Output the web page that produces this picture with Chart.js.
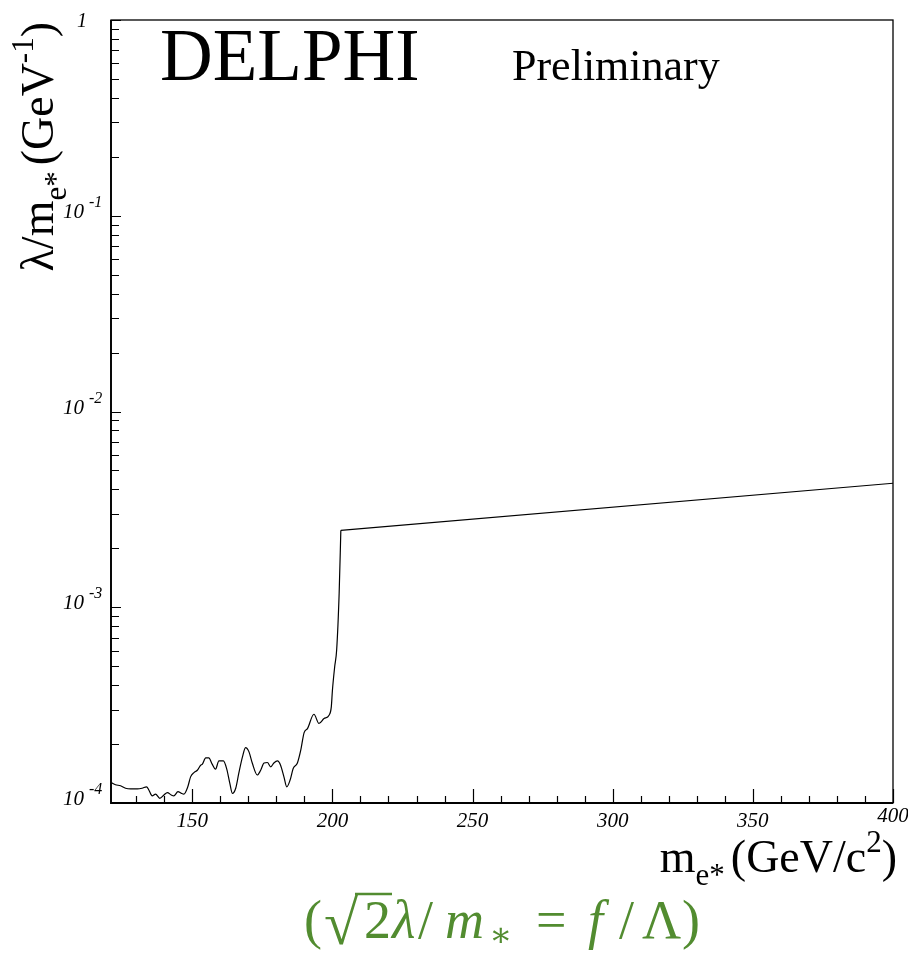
<!DOCTYPE html>
<html>
<head>
<meta charset="utf-8">
<script src="https://cdn.jsdelivr.net/npm/chart.js@4/dist/chart.umd.min.js"></script>
<style>
  html, body { margin: 0; padding: 0; background: #fff; }
  #wrap { width: 908px; height: 953px; }
</style>
</head>
<body>
<div id="wrap"><canvas id="limit-chart" width="908" height="953"></canvas></div>
<script>
// excited electron mass (GeV/c^2) and the upper limit on lambda/m (GeV^-1)
const massValues = [
    121.2, 122.6, 124.4, 126.2, 128.0, 130.4, 132.1, 133.7, 134.5, 135.7,
    136.9, 138.4, 139.9, 141.1, 142.5, 143.4, 144.9, 146.1, 147.0, 148.4,
    149.4, 150.6, 151.8, 153.0, 153.6, 154.8, 155.9, 157.1, 158.3, 159.5,
    161.1, 162.3, 163.4, 164.3, 165.5, 166.6, 167.9, 169.0, 170.2, 171.4,
    173.2, 174.4, 175.6, 176.8, 178.0, 179.1, 180.4, 181.5, 182.7, 183.7,
    184.9, 186.0, 187.5, 188.7, 189.9, 191.1, 193.4, 195.2, 197.0, 198.8,
    199.6, 200.0, 200.8, 201.5, 202.4, 203.0, 400.0
];
const limitValues = [
    1.27e-4, 1.24e-4, 1.225e-4, 1.19e-4, 1.18e-4, 1.18e-4, 1.19e-4, 1.21e-4, 1.165e-4, 1.087e-4,
    1.11e-4, 1.057e-4, 1.099e-4, 1.13e-4, 1.099e-4, 1.087e-4, 1.142e-4, 1.12e-4, 1.11e-4, 1.21e-4,
    1.36e-4, 1.43e-4, 1.47e-4, 1.56e-4, 1.58e-4, 1.70e-4, 1.70e-4, 1.58e-4, 1.49e-4, 1.64e-4,
    1.64e-4, 1.49e-4, 1.26e-4, 1.12e-4, 1.19e-4, 1.42e-4, 1.72e-4, 1.92e-4, 1.83e-4, 1.60e-4,
    1.39e-4, 1.47e-4, 1.60e-4, 1.61e-4, 1.53e-4, 1.60e-4, 1.64e-4, 1.56e-4, 1.36e-4, 1.21e-4,
    1.31e-4, 1.50e-4, 1.60e-4, 1.86e-4, 2.29e-4, 2.40e-4, 2.84e-4, 2.55e-4, 2.70e-4, 2.81e-4,
    3.10e-4, 3.77e-4, 4.96e-4, 6.03e-4, 1.18e-3, 2.47e-3, 4.30e-3
];
// the limit is smooth (scanned) up to here, a straight line beyond
const scanEnd = 65;

// axes
const xMin = 121;
const xMax = 400;
const xLabelTicks = [150, 200, 250, 300, 350, 400];
const xMinorStep = 10;
const yDecades = [-4, -3, -2, -1, 0];

const SERIF = '"Liberation Serif", "DejaVu Serif", serif';

// draws text pieces one after another, returns the end x
function drawParts(ctx, x, y, parts, measureOnly) {
    parts.forEach(p => {
        ctx.font = p.font;
        if (!measureOnly) ctx.fillText(p.t, x, y + (p.dy || 0));
        x += ctx.measureText(p.t).width + (p.gap || 0);
    });
    return x;
}

const framePlugin = {
    id: 'frame',
    afterDraw(chart) {
        const ctx = chart.ctx;
        const a = chart.chartArea;
        const xs = chart.scales.x;
        const ys = chart.scales.y;
        ctx.save();

        // frame
        ctx.strokeStyle = '#000';
        ctx.lineWidth = 1.3;
        ctx.strokeRect(a.left, a.top, a.right - a.left, a.bottom - a.top);
        ctx.lineWidth = 1.8;
        ctx.beginPath();
        ctx.moveTo(a.left, a.top);
        ctx.lineTo(a.left, a.bottom);
        ctx.lineTo(a.right, a.bottom);
        ctx.stroke();

        // x ticks, pointing inward
        ctx.lineWidth = 1.2;
        ctx.beginPath();
        for (let v = 130; v <= xMax; v += xMinorStep) {
            const px = Math.round(xs.getPixelForValue(v)) + 0.5;
            const len = v % 50 === 0 ? 14 : 7;
            ctx.moveTo(px, a.bottom);
            ctx.lineTo(px, a.bottom - len);
        }
        // y ticks
        yDecades.forEach(e => {
            const base = Math.pow(10, e);
            const py = Math.round(ys.getPixelForValue(base)) + 0.5;
            ctx.moveTo(a.left, py);
            ctx.lineTo(a.left + 10, py);
            if (e < 0) {
                for (let m = 2; m <= 9; m++) {
                    const pm = Math.round(ys.getPixelForValue(m * base)) + 0.5;
                    ctx.moveTo(a.left, pm);
                    ctx.lineTo(a.left + 8, pm);
                }
            }
        });
        ctx.stroke();

        ctx.fillStyle = '#000';
        // x tick labels
        ctx.textAlign = 'center';
        ctx.textBaseline = 'alphabetic';
        ctx.font = 'italic 21px ' + SERIF;
        xLabelTicks.forEach(v => {
            const px = xs.getPixelForValue(v);
            const by = v === xMax ? 822 : 827;
            ctx.fillText(String(v), px, by);
        });

        // y tick labels
        yDecades.forEach(e => {
            const py = ys.getPixelForValue(Math.pow(10, e));
            ctx.textAlign = 'right';
            if (e === 0) {
                ctx.font = 'italic 20px ' + SERIF;
                ctx.fillText('1', 87, py + 7);
                return;
            }
            ctx.font = 'italic 21px ' + SERIF;
            ctx.fillText('10', 84, py + 2);
            ctx.textAlign = 'left';
            ctx.font = 'italic 16px ' + SERIF;
            ctx.fillText(String(e), 89, py - 9);
        });

        // titles
        ctx.textAlign = 'left';
        ctx.font = '73px ' + SERIF;
        ctx.fillText('DELPHI', 160, 80);
        ctx.font = '44px ' + SERIF;
        ctx.fillText('Preliminary', 512, 80);

        // x axis title, right end at 897
        const big = '46px ' + SERIF;
        const small = '31px ' + SERIF;
        const xParts = [
            { t: 'm', font: big },
            { t: 'e*', font: small, dy: 13, gap: 6 },
            { t: '(GeV/c', font: big },
            { t: '2', font: small, dy: -20 },
            { t: ')', font: big }
        ];
        const xw = drawParts(ctx, 0, 0, xParts, true);
        drawParts(ctx, 897 - xw, 872, xParts);

        // y axis title, rotated, top end at y=20
        const yParts = [
            { t: 'λ/m', font: big },
            { t: 'e*', font: small, dy: 13, gap: 6 },
            { t: '(GeV', font: big },
            { t: '-1', font: small, dy: -20 },
            { t: ')', font: big }
        ];
        const yw = drawParts(ctx, 0, 0, yParts, true);
        ctx.save();
        ctx.translate(53, 22 + yw);
        ctx.rotate(-Math.PI / 2);
        drawParts(ctx, 0, 0, yParts);
        ctx.restore();

        // green coupling relation, pieces placed like the TeX layout
        const green = 'rgb(82,140,48)';
        ctx.fillStyle = green;
        ctx.strokeStyle = green;
        const g = '54px ' + SERIF;
        const gi = 'italic 54px ' + SERIF;
        const base = 938;
        const gParts = [
            { t: '(', font: g, x: 304 },
            { t: '√', font: '62px ' + SERIF, x: 324, dy: 6 },
            { t: '2', font: g, x: 364 },
            { t: 'λ', font: gi, x: 392 },
            { t: '/', font: g, x: 418 },
            { t: 'm', font: gi, x: 445 },
            { t: '∗', font: '34px ' + SERIF, x: 489, dy: 8 },
            { t: '=', font: g, x: 536 },
            { t: 'f', font: gi, x: 588 },
            { t: '/', font: g, x: 619 },
            { t: 'Λ', font: g, x: 642 },
            { t: ')', font: g, x: 682 }
        ];
        gParts.forEach(p => {
            ctx.font = p.font;
            ctx.fillText(p.t, p.x, base + (p.dy || 0));
        });
        // bar over the 2
        ctx.lineWidth = 2.5;
        ctx.beginPath();
        ctx.moveTo(355, 894);
        ctx.lineTo(392, 894);
        ctx.stroke();

        ctx.restore();
    }
};

const points = massValues.map((m, i) => ({ x: m, y: limitValues[i] }));

new Chart(document.getElementById('limit-chart'), {
    type: 'line',
    data: {
        datasets: [{
            data: points.slice(0, scanEnd + 1),
            borderColor: '#000',
            borderWidth: 1.2,
            pointRadius: 0,
            fill: false,
            cubicInterpolationMode: 'monotone'
        }, {
            data: points.slice(scanEnd),
            borderColor: '#000',
            borderWidth: 1.2,
            pointRadius: 0,
            fill: false,
            tension: 0
        }]
    },
    options: {
        responsive: false,
        animation: false,
        layout: { padding: { left: 111, right: 15, top: 20, bottom: 150 } },
        plugins: { legend: { display: false }, tooltip: { enabled: false } },
        scales: {
            x: { type: 'linear', min: xMin, max: xMax, display: false },
            y: { type: 'logarithmic', min: 1e-4, max: 1, display: false }
        }
    },
    plugins: [framePlugin]
});
</script>
</body>
</html>
